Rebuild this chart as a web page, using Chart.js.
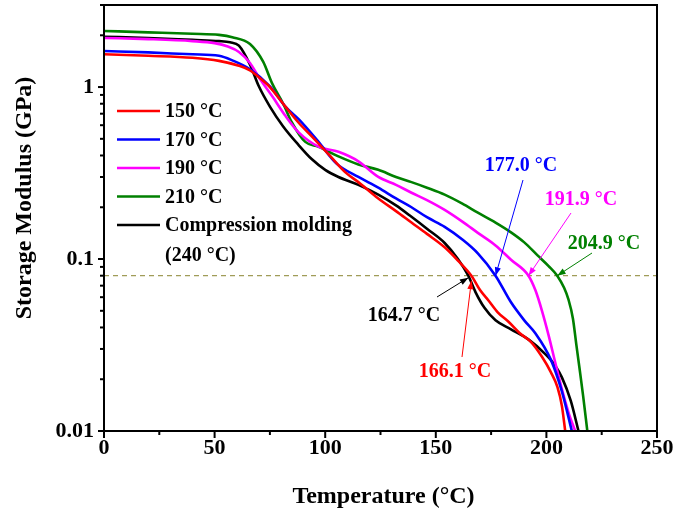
<!DOCTYPE html>
<html>
<head>
<meta charset="utf-8">
<script src="https://cdn.jsdelivr.net/npm/chart.js@4"></script>
<style>
  body { margin: 0; background: #fff; }
  canvas { display: block; }
</style>
</head>
<body>
<canvas id="canvas" width="675" height="515"></canvas>
<script>
// storage modulus (GPa) vs temperature (C)
var t150 = [0, 20, 40, 52, 61, 66, 70, 75, 82, 88, 95, 102, 109, 115, 124, 132, 139, 146, 154, 160, 166.1, 170, 174, 178, 183, 188, 193, 198, 202, 205, 207, 208.5];
var g150 = [1.55, 1.52, 1.48, 1.42, 1.33, 1.25, 1.14, 1.0, 0.77, 0.62, 0.50, 0.40, 0.32, 0.28, 0.225, 0.19, 0.163, 0.14, 0.117, 0.098, 0.08, 0.066, 0.057, 0.049, 0.043, 0.037, 0.033, 0.027, 0.022, 0.018, 0.014, 0.01];

var t170 = [0, 20, 40, 52, 58, 66, 75, 82, 88, 97, 105, 115, 124, 132, 139, 146, 154, 162, 169, 177, 184, 190, 195, 202, 207, 211.5];
var g170 = [1.62, 1.59, 1.55, 1.52, 1.43, 1.27, 1.01, 0.77, 0.65, 0.48, 0.36, 0.30, 0.26, 0.225, 0.20, 0.175, 0.154, 0.13, 0.108, 0.08, 0.056, 0.044, 0.037, 0.026, 0.017, 0.01];

var t190 = [0, 20, 40, 50, 56, 61, 66, 70, 76, 82, 88, 97, 106, 115, 124, 132, 139, 146, 154, 162, 169, 177, 184, 191.9, 195, 198, 201, 204, 207, 210, 213];
var g190 = [1.93, 1.9, 1.85, 1.8, 1.72, 1.6, 1.38, 1.14, 0.886, 0.68, 0.545, 0.45, 0.42, 0.37, 0.30, 0.27, 0.243, 0.22, 0.193, 0.165, 0.142, 0.12, 0.099, 0.08, 0.066, 0.05, 0.036, 0.025, 0.0175, 0.0128, 0.01];

var t210 = [0, 20, 40, 52, 58, 66, 72, 76, 81, 85, 91, 97, 106, 115, 124, 132, 139, 146, 154, 162, 169, 177, 184, 190, 196, 201, 204.9, 208, 210, 212, 213.5, 215, 216.6, 218.5];
var g210 = [2.12, 2.08, 2.04, 2.01, 1.95, 1.78, 1.40, 1.05, 0.80, 0.62, 0.48, 0.45, 0.395, 0.355, 0.33, 0.30, 0.28, 0.26, 0.237, 0.21, 0.186, 0.163, 0.143, 0.125, 0.105, 0.091, 0.08, 0.068, 0.058, 0.045, 0.032, 0.023, 0.016, 0.01];

var tCM = [0, 20, 40, 52, 57, 61, 66, 70, 75, 81, 88, 94, 100, 106, 115, 124, 132, 139, 146, 154, 160, 164.7, 168, 172, 177, 184, 192, 199.5, 204, 207, 211, 214.5];
var gCM = [1.96, 1.93, 1.88, 1.85, 1.82, 1.74, 1.35, 1.01, 0.77, 0.59, 0.46, 0.38, 0.33, 0.30, 0.27, 0.237, 0.205, 0.176, 0.15, 0.124, 0.1, 0.08, 0.064, 0.052, 0.044, 0.039, 0.034, 0.028, 0.024, 0.0205, 0.015, 0.01];

var seriesNames = ['150 °C', '170 °C', '190 °C', '210 °C', 'Compression molding'];
var seriesColors = ['#ff0000', '#0000ff', '#ff00ff', '#008000', '#000000'];

// dashed reference level and the temperatures where each curve meets it
var threshold = 0.08;
var crossTemps = [166.1, 177.0, 191.9, 204.9, 164.7];
var crossLabels = ['166.1 °C', '177.0 °C', '191.9 °C', '204.9 °C', '164.7 °C'];

var xTicks = [0, 50, 100, 150, 200, 250];
var yTicks = [0.01, 0.1, 1];

var FONT = '"Liberation Serif", "Times New Roman", serif';

function pts(ts, vs) {
    return ts.map(function (t, i) { return { x: t, y: vs[i] }; });
}

var curves = [pts(t150, g150), pts(t170, g170), pts(t190, g190), pts(t210, g210), pts(tCM, gCM)];

var datasets = [{
    data: [{ x: 0, y: threshold }, { x: 250, y: threshold }],
    borderColor: '#a09c58',
    borderWidth: 1.2,
    borderDash: [5, 4],
    pointRadius: 0,
    order: 10
}];
curves.forEach(function (d, i) {
    datasets.push({
        label: seriesNames[i],
        data: d,
        borderColor: seriesColors[i],
        borderWidth: 2.6,
        pointRadius: 0,
        cubicInterpolationMode: 'monotone'
    });
});

// label / arrow tail positions (pixels) for each crossing annotation
var annPos = [
    { lx: 455, ly: 372, tx: 462, ty: 357, dy: 5 },
    { lx: 521, ly: 166, tx: 523, ty: 180, dy: 0 },
    { lx: 581, ly: 200, tx: 571, ty: 213, dy: 0 },
    { lx: 604, ly: 244, tx: 592, ty: 253, dy: 0 },
    { lx: 404, ly: 316, tx: 437, ty: 297, dy: 2 }
];

function arrow(ctx, x0, y0, x1, y1, color) {
    var a = Math.atan2(y1 - y0, x1 - x0);
    ctx.strokeStyle = color;
    ctx.fillStyle = color;
    ctx.lineWidth = 1;
    ctx.beginPath();
    ctx.moveTo(x0, y0);
    ctx.lineTo(x1, y1);
    ctx.stroke();
    ctx.beginPath();
    ctx.moveTo(x1, y1);
    ctx.lineTo(x1 - 9 * Math.cos(a - 0.35), y1 - 9 * Math.sin(a - 0.35));
    ctx.lineTo(x1 - 9 * Math.cos(a + 0.35), y1 - 9 * Math.sin(a + 0.35));
    ctx.closePath();
    ctx.fill();
}

function noPad(scale) {
    scale.paddingTop = 0;
    scale.paddingBottom = 0;
    scale.paddingLeft = 0;
    scale.paddingRight = 0;
}

var decorations = {
    id: 'decorations',
    afterDraw: function (chart) {
        var ctx = chart.ctx;
        var area = chart.chartArea;
        var xs = chart.scales.x, ys = chart.scales.y;
        ctx.save();

        // frame
        ctx.strokeStyle = '#000';
        ctx.lineWidth = 2;
        ctx.strokeRect(area.left, area.top, area.right - area.left, area.bottom - area.top);

        // x ticks (outward)
        for (var v = 0; v <= 250; v += 25) {
            var px = xs.getPixelForValue(v);
            var len = v % 50 === 0 ? 7 : 4;
            ctx.beginPath();
            ctx.moveTo(px, area.bottom);
            ctx.lineTo(px, area.bottom + len);
            ctx.stroke();
        }
        // y ticks (outward), decades plus minors
        [0.01, 0.1, 1].forEach(function (dec) {
            for (var m = 1; m <= 9; m++) {
                var val = dec * m;
                if (val > 3) break;
                var py = ys.getPixelForValue(val);
                var l = m === 1 ? 6 : 4;
                ctx.beginPath();
                ctx.moveTo(area.left, py);
                ctx.lineTo(area.left - l, py);
                ctx.stroke();
            }
        });

        // axis titles
        ctx.fillStyle = '#000';
        ctx.font = 'bold 24px ' + FONT;
        ctx.textAlign = 'center';
        ctx.textBaseline = 'middle';
        ctx.fillText('Temperature (°C)', (area.left + area.right) / 2 + 3, 497);
        ctx.save();
        ctx.translate(25, 198);
        ctx.rotate(-Math.PI / 2);
        ctx.fillText('Storage Modulus (GPa)', 0, 0);
        ctx.restore();

        // legend
        ctx.font = 'bold 20px ' + FONT;
        ctx.textAlign = 'left';
        ctx.lineWidth = 2.6;
        seriesNames.forEach(function (name, i) {
            var y = 111 + i * 28.5;
            ctx.strokeStyle = seriesColors[i];
            ctx.beginPath();
            ctx.moveTo(117, y);
            ctx.lineTo(160, y);
            ctx.stroke();
            ctx.fillStyle = '#000';
            ctx.fillText(name, 165, y + 1);
        });
        ctx.fillText('(240 °C)', 165, 111 + 5 * 28.5 + 2);

        // crossing annotations
        ctx.textAlign = 'center';
        crossTemps.forEach(function (t, i) {
            var p = annPos[i];
            var hx = xs.getPixelForValue(t);
            var hy = ys.getPixelForValue(threshold) + p.dy;
            arrow(ctx, p.tx, p.ty, hx, hy, seriesColors[i]);
            ctx.fillStyle = seriesColors[i];
            ctx.fillText(crossLabels[i], p.lx, p.ly);
        });

        ctx.restore();
    }
};

new Chart(document.getElementById('canvas'), {
    type: 'line',
    data: { datasets: datasets },
    options: {
        responsive: false,
        animation: false,
        layout: { padding: { top: 5, right: 18, left: 0, bottom: 0 } },
        plugins: {
            legend: { display: false },
            tooltip: { enabled: false }
        },
        scales: {
            x: {
                type: 'linear',
                min: 0,
                max: 250,
                afterBuildTicks: function (scale) {
                    scale.ticks = xTicks.map(function (v) { return { value: v }; });
                },
                afterFit: function (scale) { scale.height = 84; noPad(scale); },
                grid: { display: false, drawTicks: false },
                border: { display: false },
                ticks: {
                    color: '#000',
                    padding: 4,
                    font: { family: FONT, size: 22, weight: 'bold' }
                }
            },
            y: {
                type: 'logarithmic',
                min: 0.01,
                max: 3,
                afterBuildTicks: function (scale) {
                    scale.ticks = yTicks.map(function (v) { return { value: v }; });
                },
                afterFit: function (scale) { scale.width = 104; noPad(scale); },
                grid: { display: false, drawTicks: false },
                border: { display: false },
                ticks: {
                    color: '#000',
                    padding: 10,
                    font: { family: FONT, size: 22, weight: 'bold' },
                    callback: function (v) { return String(v); }
                }
            }
        }
    },
    plugins: [decorations]
});
</script>
</body>
</html>
